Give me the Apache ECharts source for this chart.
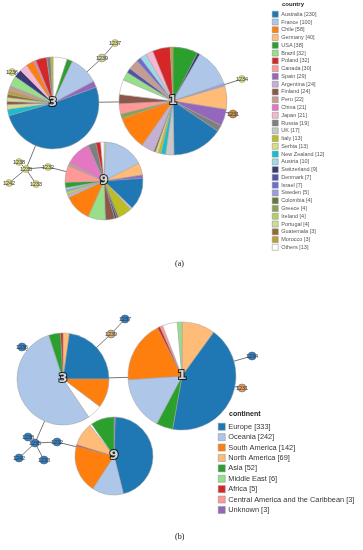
<!DOCTYPE html>
<html><head><meta charset="utf-8">
<script src="https://cdn.jsdelivr.net/npm/echarts@6/dist/echarts.min.js"></script>
<style>html,body{margin:0;padding:0;background:#fff}#c{width:363px;height:550px}</style>
</head><body><div id="c"></div>
<script>
// ---------- legend data ----------
const countries = ['Australia','France','Chile','Germany','USA','Brazil','Poland','Canada','Spain','Argentina','Finland','Peru','China','Japan','Russia','UK','Italy','Serbia','New Zealand','Austria','Switzerland','Denmark','Israel','Sweden','Colombia','Greece','Ireland','Portugal','Guatemala','Morocco','Others'];
const countryCounts = [230,100,58,40,38,32,32,30,29,24,24,22,21,21,19,17,13,13,12,10,9,7,7,5,4,4,4,4,3,3,13];
const countryPalette = ['#1f77b4','#aec7e8','#ff7f0e','#ffbb78','#2ca02c','#98df8a','#d62728','#ff9896','#9467bd','#c5b0d5','#8c564b','#c49c94','#e377c2','#f7b6d2','#7f7f7f','#c7c7c7','#bcbd22','#dbdb8d','#17becf','#9edae5','#393b79','#5254a3','#6b6ecf','#9c9ede','#637939','#8ca252','#b5cf6b','#cedb9c','#8c6d31','#bd9e39','#ffffff'];

const continents = ['Europe','Oceania','South America','North America','Asia','Middle East','Africa','Central America and the Caribbean','Unknown'];
const continentCounts = [333,242,142,69,52,6,5,3,3];
const continentPalette = ['#1f77b4','#aec7e8','#ff7f0e','#ffbb78','#2ca02c','#98df8a','#d62728','#ff9896','#9467bd'];
const NA = 'n/a';

// ---------- pie slices, panel (a) ----------
const pieA1Names = ['USA','Switzerland','France','Sweden','Germany','Spain','Russia','Australia','UK','New Zealand','Italy','Serbia','Guatemala','Argentina','Chile','Greece','Canada','Finland','Others','Brazil','Denmark','Peru','Israel','Austria','Japan','Poland','Morocco'];
const pieA1Values = [27,3,41,3,25,18,7,55,9,5,3,3,2,14,36,5,11,10,16,9,5,11,5,7,8,19,3];
const pieA3Names = ['Others','USA','France','Spain','Australia','New Zealand','Serbia','Finland','Portugal','Guatemala','Morocco','Peru','Brazil','Switzerland','Japan','Chile','China','Poland','Russia','Italy'];
const pieA3Values = [18,7,37,8,184,8,6,4,5,4,5,6,13,10,10,10,3,14,5,3];
const pieA9Names = ['Serbia','France','Germany','Spain','Australia','UK','Italy','Colombia','Switzerland','Finland','Brazil','Chile','Argentina','Ireland','Sweden','Austria','USA','Canada','Peru','China','Russia','Poland','Others'];
const pieA9Values = [3,60,18,5,48,3,21,3,3,14,26,41,4,5,3,3,8,25,5,38,12,7,5];

// ---------- pie slices, panel (b) ----------
const pieB1Names = ['North America','Europe','Asia','Oceania','South America','Africa','Central America and the Caribbean',NA,'Middle East'];
const pieB1Values = [36,154,18,58,67,3,3,16,5];
const pieB3Names = ['North America','Europe','South America',NA,'Oceania','Asia','Africa'];
const pieB3Values = [8,82,37,19,196,15,3];
const pieB9Names = ['Unknown','Europe','Oceania','South America','Africa','North America',NA,'Asia'];
const pieB9Values = [2,164,47,72,2,35,3,35];

// ---------- network nodes (layout coordinates) ----------
const netNodeIds = ['1','3','9','1237','1239','1236','1234','1231','1235','1238','1242','1233','1232'];
const layoutA = {x:[173,53,104,115,102,12,242,233,26,19,9,36,48], y:[101,103,181,43,58,72,79,114,169,162,183,184,167]};
const layoutB = {x:[182,63,114,125,111,22,252,242,35,28,19,44,57], y:[376,379,456,319,334,347,356,388,443,437,458,460,442]};
const netLinks = [['3','1'],['3','1239'],['1239','1237'],['3','1236'],['1','1234'],['1','1231'],['3','1235'],['1235','1238'],['1235','1242'],['1235','1233'],['1235','1232'],['1232','9']];
const pieRadius = {'1':54,'3':46,'9':39};

const chart = echarts.init(document.getElementById('c'), null, {renderer:'canvas'});
const base = {
  animation:false,
  grid:{left:0,right:0,top:0,bottom:0},
  xAxis:{type:'value',min:0,max:363,show:false},
  yAxis:{type:'value',min:0,max:550,inverse:true,show:false},
  series:[{type:'scatter',data:[],silent:true}]
};
chart.setOption(base);

const colorOf = (n) => {
  let i = countries.indexOf(n); if (i >= 0) return countryPalette[i];
  i = continents.indexOf(n); if (i >= 0) return continentPalette[i];
  return '#ffffff';
};
const px = (x,y) => chart.convertToPixel({gridIndex:0},[x,y]);

function pieSeries(layout, id, names, values){
  const k = netNodeIds.indexOf(id);
  const c = px(layout.x[k], layout.y[k]);
  const e = px(layout.x[k] + pieRadius[id], layout.y[k]);
  return {
    type:'pie', center:c, radius:e[0]-c[0], startAngle:90, clockwise:true,
    silent:true, z:3, label:{show:false}, labelLine:{show:false},
    emphasis:{disabled:true},
    itemStyle:{borderColor:'#a0a0a0',borderWidth:0.5},
    data:names.map((n,i)=>({name:n,value:values[i],itemStyle:{color:colorOf(n)}}))
  };
}

function netSeries(layout, nodeStyle){
  return {
    type:'graph', coordinateSystem:'cartesian2d', z:1, silent:true,
    data:netNodeIds.map((id,i)=>{
      const isPie = pieRadius[id] !== undefined;
      const st = nodeStyle[id] || nodeStyle.def;
      return {
        name:id, value:[layout.x[i],layout.y[i]],
        symbolSize:isPie?0:st.size,
        itemStyle:{color:st.color,borderColor:st.border,borderWidth:0.6},
        label:{show:!isPie,position:'inside',formatter:id,fontSize:5.5,color:'#333',fontFamily:'Liberation Sans'}
      };
    }),
    links:netLinks.map(l=>({source:l[0],target:l[1]})),
    lineStyle:{color:'#777',width:1,opacity:1}
  };
}
function centerLabels(layout, size){
  return {
    type:'scatter', z:10, silent:true, symbolSize:0,
    data:['1','3','9'].map(id=>{const k=netNodeIds.indexOf(id);return {value:[layout.x[k],layout.y[k]],name:id};}),
    label:{show:true,position:'inside',formatter:'{b}',fontSize:size,fontWeight:'bold',color:'#fff',
      textBorderColor:'#000',textBorderWidth:2,fontFamily:'DejaVu Sans'}
  };
}

const styleA = {def:{size:7,color:'#dbdb8d',border:'#9a9a60'},'1239':{size:8,color:'#cfcfa6',border:'#8a8a6a'},'1231':{size:8,color:'#c8914f',border:'#8a6030'}};
const styleB = {def:{size:8,color:'#3b7fbd',border:'#2a5f90'},'1239':{size:8,color:'#e7a96a',border:'#4a78a8'},'1231':{size:8,color:'#ef9a4a',border:'#4a78a8'}};

const option = {
  legend:[
    {orient:'vertical',left:272,top:11,padding:0,itemWidth:6,itemHeight:6,itemGap:1.27,icon:'rect',selectedMode:false,
     data:countries, itemStyle:{borderColor:'#888',borderWidth:0.5},
     formatter:(n)=>n+' ['+countryCounts[countries.indexOf(n)]+']',
     textStyle:{fontSize:5.5,lineHeight:6,color:'#555',fontFamily:'Liberation Sans',padding:[0,0,0,-2]}},
    {orient:'vertical',left:218,top:423,padding:0,itemWidth:7,itemHeight:7,itemGap:2.9,icon:'rect',selectedMode:false,
     data:continents, itemStyle:{borderColor:'#888',borderWidth:0.5},
     formatter:(n)=>n+' ['+continentCounts[continents.indexOf(n)]+']',
     textStyle:{fontSize:7.4,lineHeight:7,color:'#333',fontFamily:'Liberation Sans',padding:[0,0,0,-2]}}
  ],
  graphic:[
    {type:'text',left:282,top:1,style:{text:'country',fontSize:6,fontWeight:'bold',fill:'#222',fontFamily:'Liberation Sans'}},
    {type:'text',left:229,top:411,style:{text:'continent',fontSize:7,fontWeight:'bold',fill:'#222',fontFamily:'Liberation Sans'}},
    {type:'text',left:175,top:260,style:{text:'(a)',fontSize:8,fill:'#111',fontFamily:'Liberation Serif'}},
    {type:'text',left:175,top:533,style:{text:'(b)',fontSize:8,fill:'#111',fontFamily:'Liberation Serif'}}
  ],
  series:[
    netSeries(layoutA, styleA),
    netSeries(layoutB, styleB),
    pieSeries(layoutA,'1',pieA1Names,pieA1Values),
    pieSeries(layoutA,'3',pieA3Names,pieA3Values),
    pieSeries(layoutA,'9',pieA9Names,pieA9Values),
    pieSeries(layoutB,'1',pieB1Names,pieB1Values),
    pieSeries(layoutB,'3',pieB3Names,pieB3Values),
    pieSeries(layoutB,'9',pieB9Names,pieB9Values),
    centerLabels(layoutA,12),
    centerLabels(layoutB,13)
  ]
};
chart.setOption(option, {replaceMerge:['series']});
</script>
</body></html>
